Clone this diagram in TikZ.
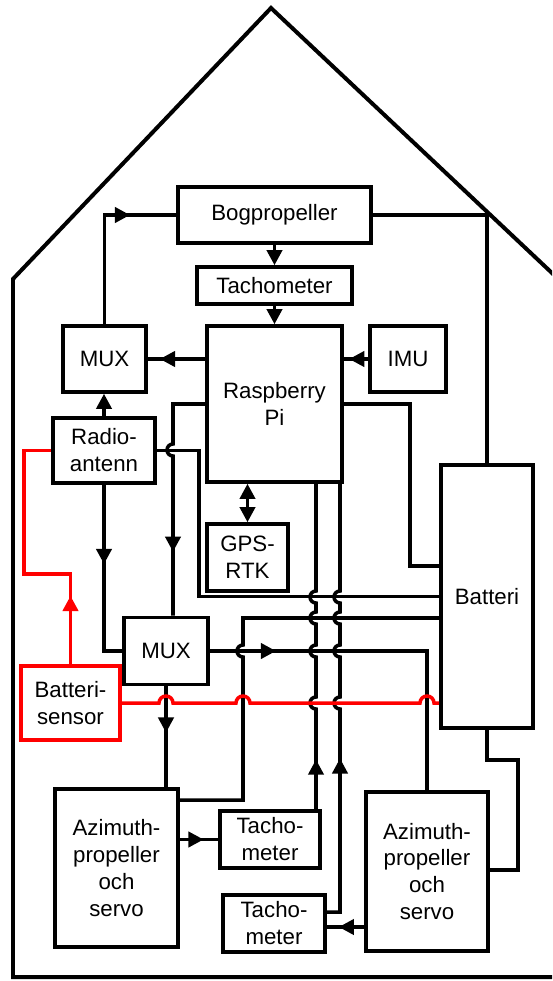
\documentclass[tikz,border=0pt]{standalone}
\usepackage{fontspec}
\setmainfont{Liberation Sans}
\usetikzlibrary{arrows.meta,decorations.markings}
\newlength\px
\setlength\px{0.03cm}

\begin{document}
\begin{tikzpicture}[
  x=0.03cm, y=0.03cm,
  font=\fontsize{19}{23}\selectfont,
  line width=3pt,
  >={Triangle[length=13pt,width=13pt]},
  blk/.style={draw, inner sep=0pt, align=center},
  midarr/.style={postaction={decorate}, decoration={markings,
    mark=at position #1 with {\arrow{>}}}},
  sig/.style={red},
]
  \useasboundingbox (0,0) rectangle (552,-981);
  \clip (0,0) rectangle (552,-981);

  % hull
  \draw[line width=3.4pt] (570,-977) -- (13,-977) -- (13,-279) -- (271,-8) -- (570,-290);

  \node[blk, minimum width=193\px, minimum height=56\px] (bog) at (274.5,-215) {Bogpropeller};
  \node[blk, minimum width=155\px, minimum height=37\px] (tach) at (274.5,-285.5) {Tachometer};
  \node[blk, minimum width=135\px, minimum height=156\px] (rpi) at (274.5,-404) {Raspberry\\Pi};
  \node[blk, minimum width=76\px, minimum height=66\px] (imu) at (408,-359) {IMU};
  \node[blk, minimum width=83\px, minimum height=66\px] (muxa) at (104.5,-359) {MUX};
  \node[blk, minimum width=102\px, minimum height=65\px] (radio) at (104,-450.5) {Radio-\\antenn};
  \node[blk, minimum width=81\px, minimum height=67\px] (gps) at (247.5,-557.5) {GPS-\\RTK};
  \node[blk, minimum width=84\px, minimum height=67\px] (muxb) at (166,-651) {MUX};
  \node[blk, draw=red, minimum width=99\px, minimum height=74\px] (bsens) at (70.5,-703) {Batteri-\\sensor};
  \node[blk, minimum width=92\px, minimum height=263\px] (batt) at (487,-596.5) {Batteri};
  \node[blk, minimum width=123\px, minimum height=158\px] (aza) at (116.5,-868) {Azimuth-\\propeller\\och\\servo};
  \node[blk, minimum width=100\px, minimum height=57\px] (tacha) at (270,-839.5) {Tacho-\\meter};
  \node[blk, minimum width=102\px, minimum height=57\px] (tachb) at (274,-923.5) {Tacho-\\meter};
  \node[blk, minimum width=122\px, minimum height=159\px] (azb) at (427,-871.5) {Azimuth-\\propeller\\och\\servo};

  % upper part
  \draw[midarr=0.745] (muxa.north) |- (bog.west);
  \draw[->] (bog.south) -- (tach.north);
  \draw[->] (tach.south) -- (rpi.north);
  \draw (bog.east) -| (batt.north);
  \draw[midarr=0.78] (imu.west) -- (imu.west -| rpi.east);
  \draw[midarr=0.79] (muxa.east -| rpi.west) -- (muxa.east);
  \draw[->] (radio.north) -- (radio.north |- muxa.south);
  \draw (rpi.east) -| (410,-566) -- (batt.west |- 0,-566);
  \draw[<->] (gps.north) -- (gps.north |- rpi.south);

  % middle part
  \draw[midarr=0.745] (rpi.west) -- (173,-404) -- (173,-444) arc(90:270:6)
    -- (173,-404 |- muxb.north);
  \draw (radio.east) -| (batt.west -| 199,0) -- (batt.west);
  \draw[midarr=0.43] (radio.south) |- (muxb.west);
  \draw[midarr=0.186] (muxb.east) -| (azb.north);
  \draw[midarr=0.46] (muxb.south) -- (muxb.south |- aza.north);
  \draw (batt.west |- 0,-618) -- (243,-618) -- (243,-645) arc(90:270:6)
    -- (243,-800) -- (aza.east |- 0,-800);

  % lower part
  \draw[midarr=0.62] (tacha.west -| aza.east) -- (tacha.west);
  \draw[midarr=0.68] (azb.west |- 0,-927) -- (tachb.east |- 0,-927);
  \draw (batt.south) -- (487,-760) -| (518,-870) -- (azb.east |- 0,-870);
  \draw[midarr=0.141] (tacha.north -| 316,0)
    \foreach \h in {703,651,618,597} { -- (316,-\h-6) arc(270:90:6) }
    -- (rpi.south -| 316,0);
  \draw[midarr=0.356] (tachb.east |- 0,-912) -- (340,-912)
    \foreach \h in {703,651,618,597} { -- (340,-\h-6) arc(270:90:6) }
    -- (rpi.south -| 340,0);

  % battery sensor
  \draw[sig, midarr=0.238] (bsens.north) -- (70.5,-574) -- (24,-574) |- (radio.west);
  \draw[sig] (bsens.east) -- (159,-703) arc(180:0:7) -- (236,-703) arc(180:0:7)
    -- (420,-703) arc(180:0:7) -- (batt.west |- 0,-703);
\end{tikzpicture}
\end{document}
